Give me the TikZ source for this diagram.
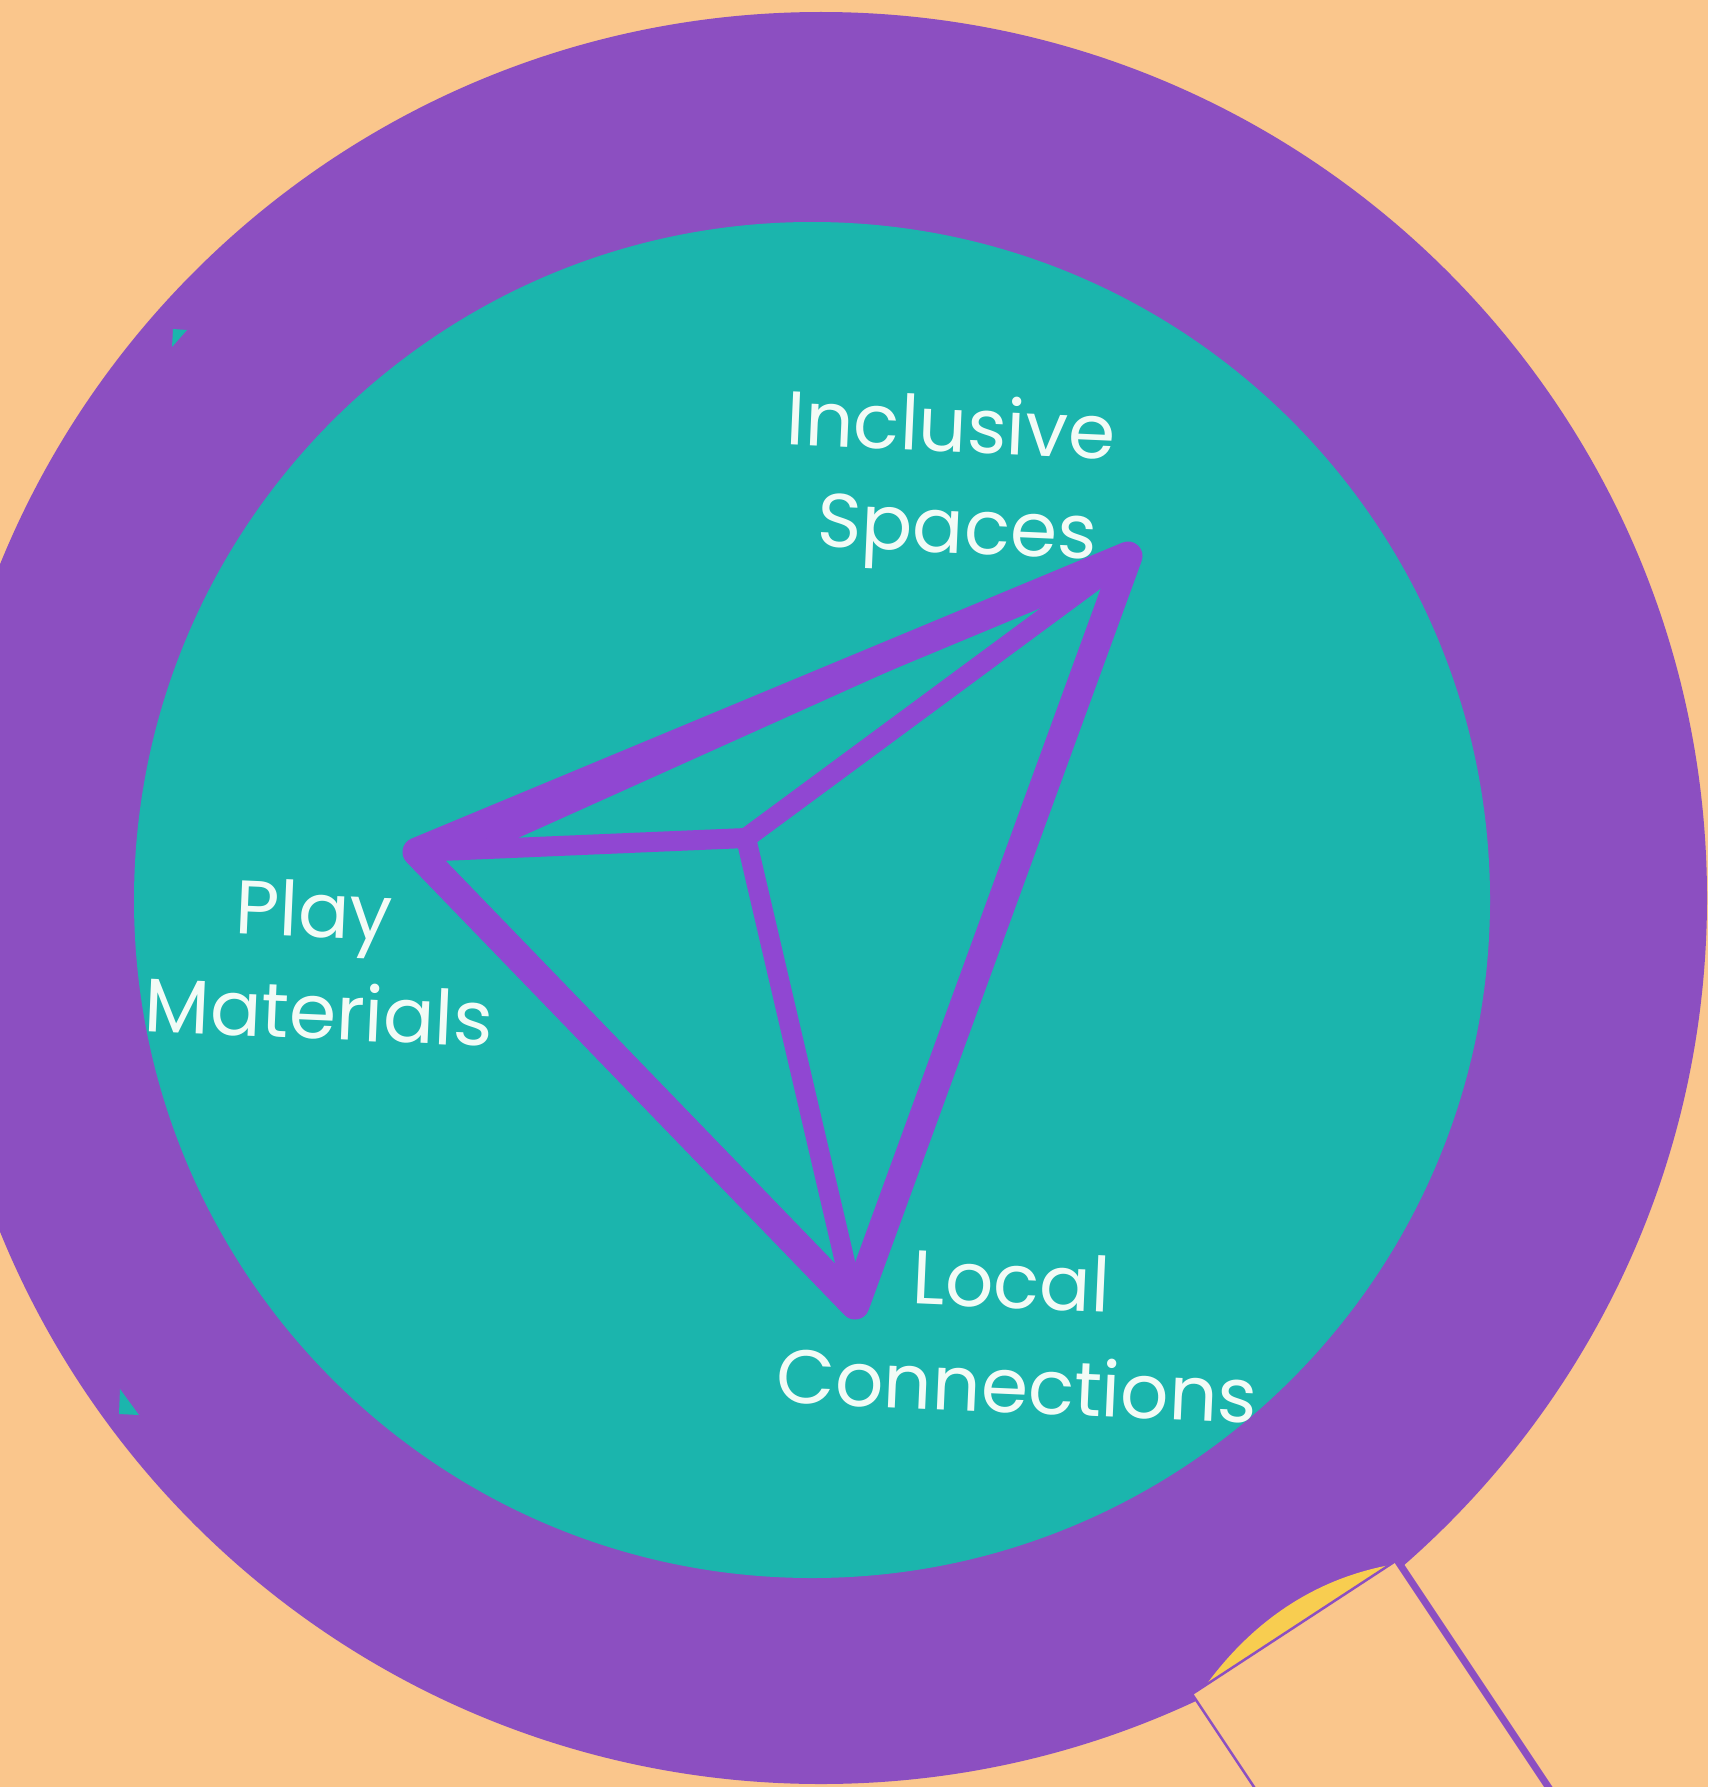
\documentclass[tikz,border=0pt]{standalone}
\usepackage{fontspec}
\setmainfont{Poppins}
\definecolor{peach}{HTML}{FAC68C}
\definecolor{ring}{HTML}{8C4FC1}
\definecolor{teal}{HTML}{1BB5AD}
\definecolor{tri}{HTML}{9047D2}
\definecolor{lensyellow}{HTML}{F8CD50}
\definecolor{labeltext}{HTML}{F2FBF6}
\tikzset{
  outeredge/.style={draw=tri, line width=29pt, line cap=round, line join=round},
  inneredge/.style={draw=tri, line width=20pt, line cap=round, line join=round},
  foldedge/.style={draw=tri, line width=14pt, line cap=round, line join=round},
  lbl/.style={text=labeltext, font=\fontsize{76}{100}\selectfont, anchor=base, inner sep=0pt, rotate=-2.5},
}
\begin{document}
\begin{tikzpicture}[x=1pt,y=-1pt]
\useasboundingbox (0,0) rectangle (1708,1787);
\begin{scope}
\clip (0,0) rectangle (1708,1787);
\fill[peach] (0,0) rectangle (1708,1787);
% ring and lens
\fill[ring] (821,898) circle[radius=886];
\fill[teal] (812,900) circle[radius=678];
% small teal fragments
\fill[teal] (173,329) -- (187,330) -- (172,347) -- cycle;
\fill[teal] (120,1389) -- (119,1414) -- (139,1415) -- cycle;
% yellow crescent
\fill[lensyellow] (1206,1685) .. controls (1250,1625) and (1310,1580) .. (1390,1565) -- cycle;
% handle
\coordinate (hA) at (1192,1694);
\coordinate (hB) at (1397,1560);
\coordinate (hC) at (1591,1851);
\coordinate (hD) at (1386,1985);
\fill[peach] (hA) -- (hB) -- (hC) -- (hD) -- cycle;
\draw[ring, line width=2.5pt] (hD) -- (hA) -- (hB);
\draw[ring, line width=7pt] (hB) -- (hC);
\end{scope}
% triangle
\coordinate (L) at (417,852);
\coordinate (T) at (1128,556);
\coordinate (B) at (855,1305);
\coordinate (I) at (746,838);
\coordinate (F) at (492,842);
\draw[inneredge] (L) -- (I) -- (T);
\draw[inneredge] (I) -- (B);
\draw[foldedge] (F) -- (T);
\draw[outeredge] (L) -- (T) -- (B) -- cycle;
% labels
\node[lbl] (inc) at (950,452) {Inclusive};
\node[lbl] (spa) at (956,553) {Spaces};
\node[lbl] (pla) at (313,937) {Play};
\node[lbl] (mat) at (318,1039) {Materials};
\node[lbl] (loc) at (1010,1308) {Local};
\node[lbl] (con) at (1016,1413) {Connections};
\end{tikzpicture}
\end{document}
